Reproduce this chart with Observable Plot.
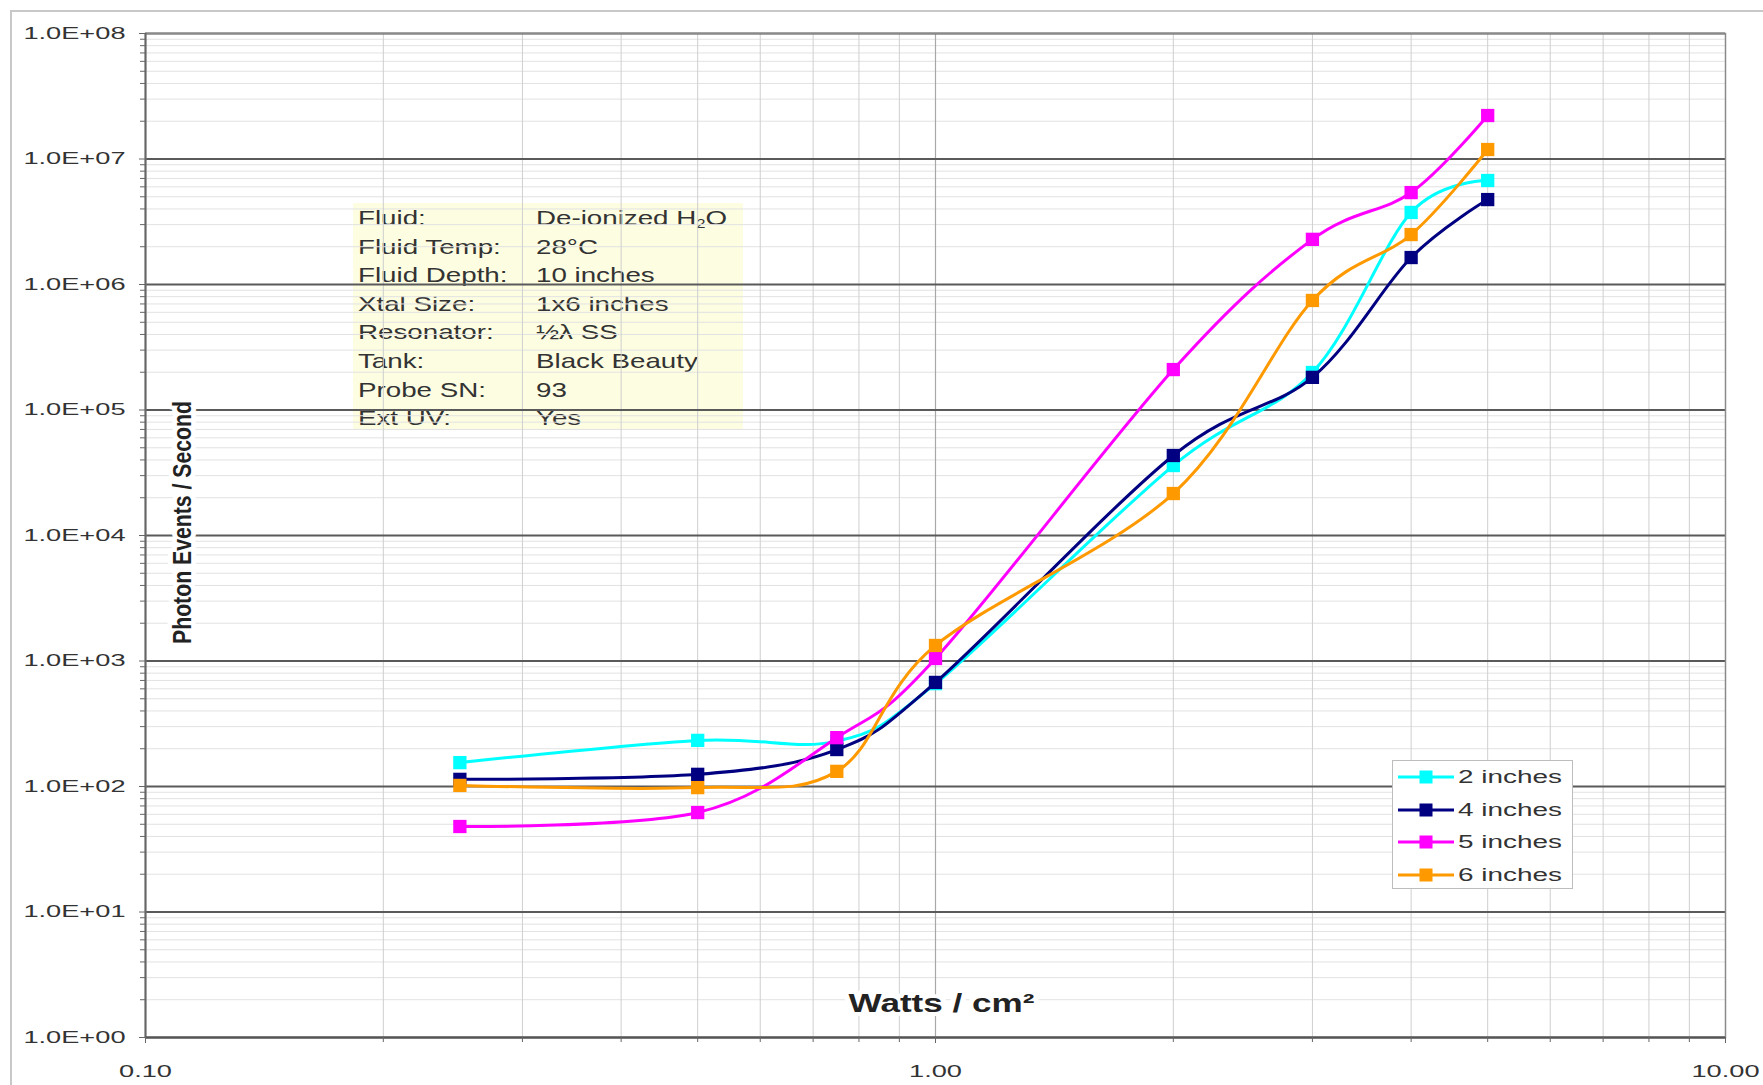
<!DOCTYPE html>
<html><head><meta charset="utf-8">
<script src="https://cdn.jsdelivr.net/npm/d3@7"></script>
<script src="https://cdn.jsdelivr.net/npm/@observablehq/plot@0.6"></script>
<style>
body{margin:0;background:#fff;font-family:"Liberation Sans",Arial,sans-serif;}
#wrap{position:relative;width:1763px;height:1085px;overflow:hidden;background:#fff}
#border{position:absolute;left:10px;top:10px;width:1800px;height:1200px;border:2px solid #c8c8c8;}
#info{position:absolute;left:353px;top:203px;width:390px;height:226px;background:#fdfde2;}
#info .row{position:absolute;left:0;height:28.6px;line-height:28.6px;font-size:21px;color:#333;white-space:nowrap}
#info .lab{position:absolute;left:5px;display:inline-block;transform:scaleX(1.32);transform-origin:left center}
#info .val{position:absolute;left:183px;display:inline-block;transform:scaleX(1.32);transform-origin:left center}
#info sub{font-size:0.6em;vertical-align:-0.2em}
#chart{position:absolute;left:0;top:0}
#legend{position:absolute;left:1392px;top:760px;width:179px;height:127px;background:#fff;border:1px solid #bdbdbd;}
#legend .lrow{position:absolute;left:0;height:24px;line-height:24px;white-space:nowrap}
#legend svg{position:absolute;left:5px;top:2px}
#legend .lt{position:absolute;left:65px;font-size:18px;color:#333;display:inline-block;transform:scaleX(1.55);transform-origin:left center}
</style></head>
<body>
<div id="wrap">
  <div id="border"></div>
  <div id="info"></div>
  <div id="chart"></div>
  <div id="legend"></div>
</div>
<script>
// ---- data ----
const xValues = [0.25, 0.5, 0.75, 1, 2, 3, 4, 5];
const seriesNames = ["2 inches", "4 inches", "5 inches", "6 inches"];
const seriesColors = ["#00FFFF", "#000080", "#FF00FF", "#FF9900"];
const s2in = [155, 233, 230, 660, 36100, 199000, 3750000, 6740000];
const s4in = [114, 125, 197, 675, 43400, 182000, 1640000, 4750000];
const s5in = [48, 62, 245, 1047, 210000, 2290000, 5400000, 22200000];
const s6in = [102, 98, 132, 1330, 21600, 746000, 2500000, 11900000];
const yMajorTicks = [1, 10, 100, 1e3, 1e4, 1e5, 1e6, 1e7, 1e8];
const yTickLabels = ["1.0E+00","1.0E+01","1.0E+02","1.0E+03","1.0E+04","1.0E+05","1.0E+06","1.0E+07","1.0E+08"];
const xMajorTicks = [0.1, 1, 10];
const xTickLabels = ["0.10", "1.00", "10.00"];
const xTitle = "Watts / cm²";
const yTitle = "Photon Events / Second";
const infoLabels = ["Fluid:", "Fluid Temp:", "Fluid Depth:", "Xtal Size:", "Resonator:", "Tank:", "Probe SN:", "Ext UV:"];
const infoValues = ["De-ionized H<sub>2</sub>O", "28°C", "10 inches", "1x6 inches", "½λ SS", "Black Beauty", "93", "Yes"];

const seriesValues = [s2in, s4in, s5in, s6in];
const rows = seriesNames.flatMap((name, si) => xValues.map((x, i) => ({series: name, x, y: seriesValues[si][i]})));

const yMinor = d3.range(0, 8).flatMap(e => d3.range(2, 10).map(k => k * Math.pow(10, e)));
const xMinor = d3.range(-1, 1).flatMap(e => d3.range(2, 10).map(k => k * Math.pow(10, e)));
const yFmt = d => yTickLabels[yMajorTicks.findIndex(v => Math.abs(Math.log10(v) - Math.log10(d)) < 1e-6)];
const xFmt = d => xTickLabels[xMajorTicks.findIndex(v => Math.abs(Math.log10(v) - Math.log10(d)) < 1e-6)];

const seriesMarks = seriesNames.flatMap((name, si) => {
  const d = rows.filter(r => r.series === name);
  return [
    Plot.line(d, {x: "x", y: "y", stroke: seriesColors[si], strokeWidth: 3, curve: "cardinal"}),
    Plot.dot(d, {x: "x", y: "y", symbol: "square", r: 7.5, fill: seriesColors[si], stroke: "none"})
  ];
});

const svg = Plot.plot({
  width: 1763, height: 1085,
  marginLeft: 145, marginRight: 38, marginTop: 33, marginBottom: 48,
  style: {background: "transparent", fontFamily: "'Liberation Sans', Arial, sans-serif", fontSize: "17px", color: "#333"},
  x: {type: "log", domain: [0.1, 10], label: null},
  y: {type: "log", domain: [1, 1e8], label: null},
  marks: [
    Plot.ruleY(yMinor, {stroke: "#e2e2e2", strokeWidth: 1}),
    Plot.ruleX(xMinor, {stroke: "#cfcfcf", strokeWidth: 1}),
    Plot.ruleX([1], {stroke: "#a8a8a8", strokeWidth: 1.2}),
    Plot.ruleY(yMajorTicks, {stroke: "#5a5a5a", strokeWidth: 2}),
    Plot.frame({stroke: "#8a8a8a", strokeWidth: 1.5}),
    Plot.ruleX([0.1], {stroke: "#666", strokeWidth: 2}),
    Plot.ruleY([1], {stroke: "#555", strokeWidth: 2}),
    Plot.axisY(yMinor, {tickSize: 5, tickFormat: () => "", stroke: "#666"}),
    Plot.axisY(yMajorTicks, {tickSize: 6, tickPadding: 14, tickFormat: yFmt, stroke: "#666"}),
    Plot.axisX(xMinor, {tickSize: 5, tickFormat: () => "", stroke: "#666"}),
    Plot.axisX(xMajorTicks, {tickSize: 6, tickPadding: 21, tickFormat: xFmt, stroke: "#666"}),
    Plot.text([xTitle], {frameAnchor: "bottom", dx: 6, dy: -26, fontWeight: "bold", fontSize: 26, fill: "#222", stroke: "white", strokeWidth: 8}),
    Plot.text([yTitle], {frameAnchor: "left", textAnchor: "middle", dx: 37, dy: -13, rotate: -90, fontWeight: "bold", fontSize: 26, fill: "#222", stroke: "white", strokeWidth: 10}),
    ...seriesMarks
  ]
});
document.getElementById("chart").append(svg);

// stretch/compress text to match the reference's wide lettering
svg.querySelectorAll("text").forEach(t => {
  const s = t.textContent;
  if (!s) return;
  let target = null;
  if (yTickLabels.includes(s) || xTickLabels.includes(s)) target = t.getComputedTextLength() * 1.6;
  else if (s === xTitle) target = t.getComputedTextLength() * 1.35;
  else if (s === yTitle) target = 243;
  if (target) {
    t.setAttribute("textLength", target);
    t.setAttribute("lengthAdjust", "spacingAndGlyphs");
  }
});

// info box
const info = document.getElementById("info");
infoLabels.forEach((lab, i) => {
  const r = document.createElement("div");
  r.className = "row";
  r.style.top = (1 + i * 28.6) + "px";
  r.innerHTML = `<span class="lab">${lab}</span><span class="val">${infoValues[i]}</span>`;
  info.append(r);
});

// legend
const legend = document.getElementById("legend");
seriesNames.forEach((name, i) => {
  const r = document.createElement("div");
  r.className = "lrow";
  r.style.top = (4 + i * 32.6) + "px";
  const c = seriesColors[i];
  r.innerHTML = `<svg width="58" height="20"><line x1="0" y1="10" x2="56" y2="10" stroke="${c}" stroke-width="3"/><rect x="21.5" y="3.5" width="13" height="13" fill="${c}"/></svg><span class="lt">${name}</span>`;
  legend.append(r);
});
</script>
</body></html>
